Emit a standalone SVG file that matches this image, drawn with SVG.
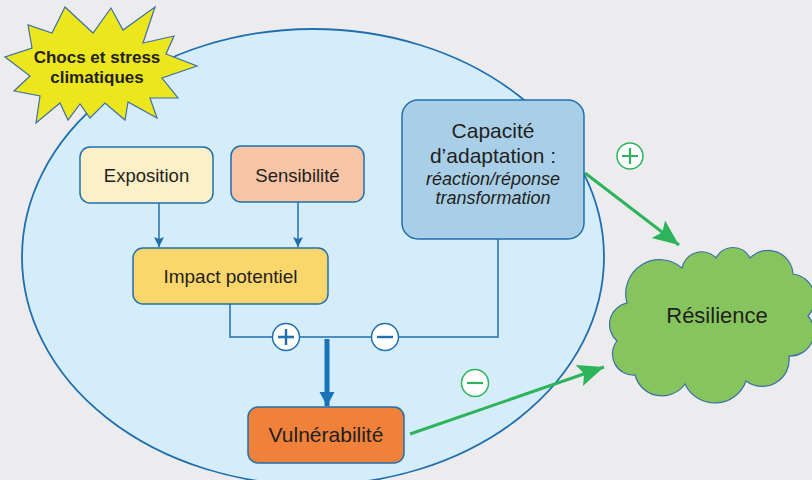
<svg xmlns="http://www.w3.org/2000/svg" width="812" height="480" viewBox="0 0 812 480">
<defs>
<style>
text{font-family:"Liberation Sans",Arial,Helvetica,sans-serif;fill:#231f20;text-anchor:middle}
.box{stroke:#1f6fae;stroke-width:1.5}
.ln{fill:none;stroke:#1f6fae;stroke-width:1.5}
.grn{fill:none;stroke:#2db45a;stroke-width:3}
.gc{fill:#fff;stroke:#2db45a;stroke-width:1.5}
.gs{stroke:#2db45a;stroke-width:2.2;fill:none}
.bc{fill:#fff;stroke:#1f6fae;stroke-width:1.5}
.bs{stroke:#1f6fae;stroke-width:2.4;fill:none}
</style>
<marker id="ab" markerUnits="userSpaceOnUse" markerWidth="10" markerHeight="12" refX="10" refY="5" orient="auto">
<path d="M0,0 L10,5 L0,10 L2,5 Z" fill="#1f6fae"/>
</marker>
<marker id="abig" markerUnits="userSpaceOnUse" markerWidth="16" markerHeight="16" refX="14" refY="7.5" orient="auto">
<path d="M0,0 L14,7.5 L0,15 Z" fill="#1a72b8"/>
</marker>
<marker id="ag" markerUnits="userSpaceOnUse" markerWidth="28" markerHeight="24" refX="26" refY="11" orient="auto">
<path d="M0,0 L26,11 L0,22 L5,11 Z" fill="#2db45a"/>
</marker>
</defs>
<rect width="812" height="480" fill="#ececef"/>
<ellipse id="zone" cx="313" cy="257" rx="291" ry="228" fill="#d5edfa" stroke="#1f6fae" stroke-width="1.8"/>

<g id="chocs">
<polygon points="65,7 93,33 111,8 123,30 155,7 143,43 174,36 166,54 197,66 162,78 178,98 150,98 157,118 128,102 125,120 105,103 90,118 80,104 68,120 60,103 36,123 40,96 14,91 30,76 5,57 32,48 28,25 52,33" fill="#ece61c" stroke="#3d6fa8" stroke-width="1.2" stroke-linejoin="miter"/>
<text x="97" y="63" font-size="17" font-weight="bold">Chocs et stress</text>
<text x="97" y="83" font-size="17" font-weight="bold">climatiques</text>
</g>

<g id="connectors">
<line class="ln" x1="159" y1="203" x2="159" y2="247" marker-end="url(#ab)"/>
<line class="ln" x1="298" y1="202" x2="298" y2="247" marker-end="url(#ab)"/>
<polyline class="ln" points="230,304 230,337 498,337 498,239"/>
<line x1="327" y1="339" x2="327" y2="406" stroke="#1a72b8" stroke-width="5" marker-end="url(#abig)"/>
<line class="grn" x1="585" y1="173" x2="679" y2="245" marker-end="url(#ag)"/>
<line class="grn" x1="410" y1="434" x2="604" y2="367" marker-end="url(#ag)"/>
<g id="signe-plus">
<circle class="bc" cx="286" cy="337" r="13.5"/>
<path class="bs" d="M278,337 H294 M286,329 V345"/>
</g>
<g id="signe-moins">
<circle class="bc" cx="385" cy="337" r="13.5"/>
<path class="bs" d="M377,337 H393"/>
</g>
<g id="signe-plus-vert">
<circle class="gc" cx="630" cy="156" r="13"/>
<path class="gs" d="M622,156 H638 M630,148 V164"/>
</g>
<g id="signe-moins-vert">
<circle class="gc" cx="475" cy="383" r="13.5"/>
<path class="gs" d="M467,383 H483" stroke-width="3"/>
</g>
</g>

<g id="exposition">
<rect class="box" x="80" y="147" width="133" height="56" rx="10" fill="#fdf0c6"/>
<text x="146.5" y="182" font-size="18.5">Exposition</text>
</g>
<g id="sensibilite">
<rect class="box" x="231" y="146" width="133" height="56" rx="10" fill="#f7c4a6"/>
<text x="297.5" y="182" font-size="18.5">Sensibilité</text>
</g>
<g id="impact">
<rect class="box" x="133" y="248" width="195" height="56" rx="10" fill="#fbd66b"/>
<text x="230.5" y="283" font-size="19">Impact potentiel</text>
</g>
<g id="capacite">
<rect class="box" x="402" y="100" width="182" height="139" rx="16" fill="#a9cfe8"/>
<text x="493" y="138" font-size="21">Capacité</text>
<text x="493" y="163" font-size="21">d’adaptation :</text>
<text x="493" y="185" font-size="18" font-style="italic">réaction/réponse</text>
<text x="493" y="204" font-size="18" font-style="italic">transformation</text>
</g>
<g id="vulnerabilite">
<rect class="box" x="248" y="407" width="156" height="56" rx="10" fill="#f0813a"/>
<text x="326" y="442" font-size="21">Vulnérabilité</text>
</g>
<g id="resilience">
<path d="M627,303 A34,34 0 0 1 682,268 A20,20 0 0 1 716,258 A19,19 0 0 1 750,258 A25,25 0 0 1 793,274 A25,25 0 0 1 808,316 A24,24 0 0 1 789,356 A27,27 0 0 1 746,381 A33,33 0 0 1 685,384 A28,28 0 0 1 635,375 A21,21 0 0 1 617,341 A22,22 0 0 1 627,303 Z" fill="#86c45e" stroke="#3d6fa8" stroke-width="1.2"/>
<text x="717" y="323" font-size="22">Résilience</text>
</g>
</svg>
